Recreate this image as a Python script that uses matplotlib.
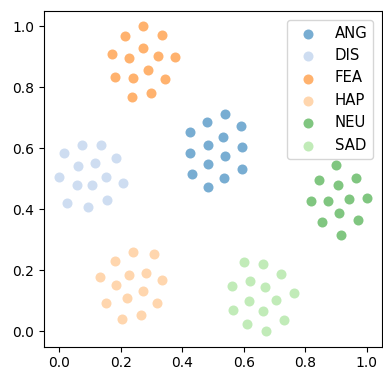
import matplotlib
matplotlib.use("Agg")
import matplotlib.pyplot as plt

labels = ["ANG", "DIS", "FEA", "HAP", "NEU", "SAD"]
colors = ["#1f77b4", "#aec7e8", "#ff7f0e", "#ffbb78", "#2ca02c", "#98df8a"]

ang_x = [0.537, 0.479, 0.589, 0.425, 0.533, 0.483, 0.594, 0.426, 0.537, 0.483, 0.593, 0.430, 0.535, 0.483]
ang_y = [0.713, 0.685, 0.674, 0.653, 0.638, 0.612, 0.603, 0.584, 0.574, 0.549, 0.532, 0.514, 0.502, 0.474]

dis_x = [0.074, 0.134, 0.015, 0.185, 0.062, 0.115, 0.000, 0.153, 0.057, 0.106, 0.206, 0.025, 0.092, 0.156]
dis_y = [0.612, 0.612, 0.584, 0.567, 0.542, 0.550, 0.507, 0.507, 0.478, 0.478, 0.485, 0.421, 0.406, 0.429]

fea_x = [0.271, 0.212, 0.333, 0.271, 0.171, 0.227, 0.320, 0.377, 0.181, 0.238, 0.288, 0.344, 0.235, 0.298]
fea_y = [1.000, 0.967, 0.971, 0.928, 0.907, 0.896, 0.903, 0.899, 0.832, 0.831, 0.856, 0.828, 0.768, 0.782]

hap_x = [0.240, 0.308, 0.181, 0.131, 0.225, 0.280, 0.334, 0.185, 0.273, 0.221, 0.152, 0.319, 0.204, 0.266]
hap_y = [0.260, 0.252, 0.231, 0.178, 0.185, 0.192, 0.167, 0.153, 0.131, 0.108, 0.092, 0.092, 0.042, 0.054]

neu_x = [0.900, 0.844, 0.964, 0.905, 0.819, 0.873, 0.943, 1.000, 0.911, 0.854, 0.972, 0.915]
neu_y = [0.544, 0.496, 0.503, 0.478, 0.426, 0.428, 0.432, 0.436, 0.387, 0.357, 0.364, 0.317]

sad_x = [0.601, 0.663, 0.721, 0.561, 0.621, 0.670, 0.762, 0.617, 0.706, 0.565, 0.663, 0.731, 0.609, 0.673]
sad_y = [0.228, 0.222, 0.189, 0.150, 0.164, 0.147, 0.125, 0.100, 0.104, 0.071, 0.067, 0.039, 0.023, 0.000]

series = [(ang_x, ang_y), (dis_x, dis_y), (fea_x, fea_y),
          (hap_x, hap_y), (neu_x, neu_y), (sad_x, sad_y)]

fig = plt.figure(figsize=(3.83, 3.70), dpi=100)
ax = fig.add_axes([0.115, 0.063, 0.883, 0.908])
for (xs, ys), lab, col in zip(series, labels, colors):
    ax.scatter(xs, ys, s=52, color=col, alpha=0.6, label=lab, linewidths=0)
ax.set_xticks([0.0, 0.2, 0.4, 0.6, 0.8, 1.0])
ax.set_yticks([0.0, 0.2, 0.4, 0.6, 0.8, 1.0])
ax.legend(loc="upper right", fontsize=10.7, borderaxespad=0.6)
fig.savefig("out.png", dpi=100)
